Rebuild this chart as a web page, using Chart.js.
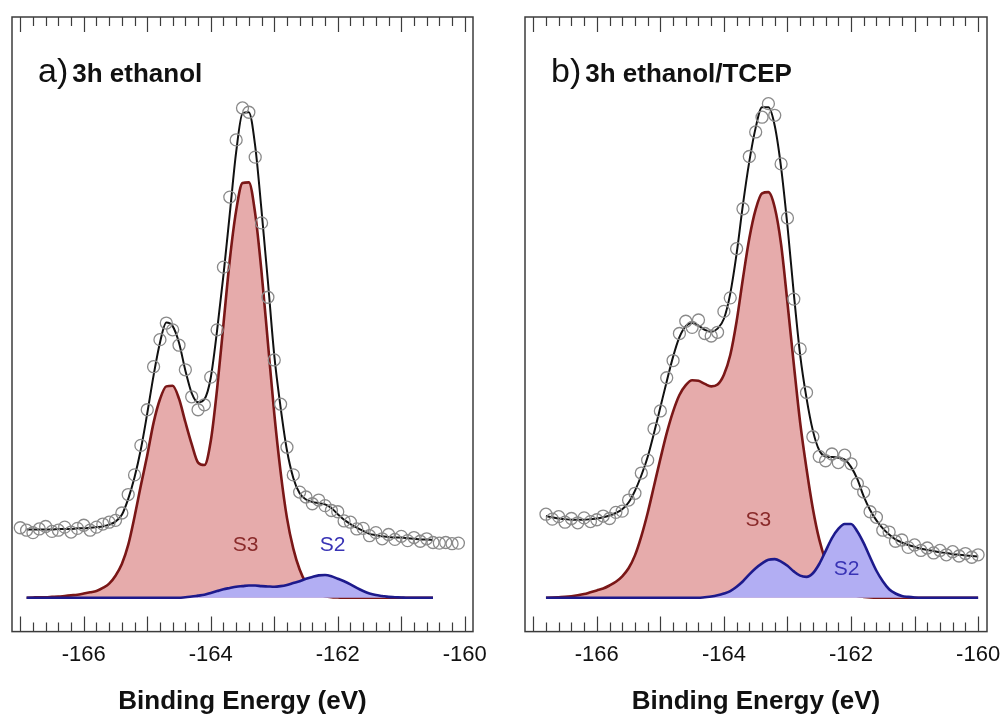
<!DOCTYPE html>
<html>
<head>
<meta charset="utf-8">
<script src="https://cdn.jsdelivr.net/npm/chart.js@4.4.0/dist/chart.umd.min.js"></script>
<style>
  body { margin: 0; background: #fff; overflow: hidden; }
  #wrap { position: relative; width: 1003px; height: 715px; overflow: hidden; }
  canvas { position: absolute; top: 0; }
  #panelA { left: 0; }
  #panelB { left: 500px; }
</style>
</head>
<body>
<div id="wrap">
  <canvas id="panelA" width="500" height="715"></canvas>
  <canvas id="panelB" width="530" height="715"></canvas>
</div>
<script>
// S 2p spectra, binding energy (eV) vs. intensity (arb. units, fitted baseline = 0)
const tickLabels = [-166, -164, -162, -160];

// a) 3h ethanol
const energyA = [
  -167.0, -166.9, -166.8, -166.7, -166.6, -166.5, -166.4, -166.3, -166.2, -166.1,
  -166.0, -165.9, -165.8, -165.7, -165.6, -165.5, -165.4, -165.3, -165.2, -165.1,
  -165.0, -164.9, -164.8, -164.7, -164.6, -164.5, -164.4, -164.3, -164.2, -164.1,
  -164.0, -163.9, -163.8, -163.7, -163.6, -163.5, -163.4, -163.3, -163.2, -163.1,
  -163.0, -162.9, -162.8, -162.7, -162.6, -162.5, -162.4, -162.3, -162.2, -162.1,
  -162.0, -161.9, -161.8, -161.7, -161.6, -161.5, -161.4, -161.3, -161.2, -161.1,
  -161.0, -160.9, -160.8, -160.7, -160.6, -160.5, -160.4, -160.3, -160.2, -160.1
];
const measuredA = [
  11.4, 11.0, 10.6, 11.2, 11.6, 10.8, 11.0, 11.5, 10.7, 11.3,
  11.8, 11.0, 11.5, 12.0, 12.3, 12.6, 13.8, 16.8, 20.0, 24.8,
  30.6, 37.6, 42.0, 44.7, 43.6, 41.1, 37.1, 32.7, 30.6, 31.4,
  35.9, 43.6, 53.8, 65.2, 74.5, 79.7, 79.0, 71.7, 61.0, 48.9,
  38.7, 31.5, 24.5, 20.0, 17.2, 16.4, 15.3, 15.9, 15.0, 14.2,
  14.0, 12.5, 12.3, 11.2, 11.3, 10.1, 10.6, 9.6, 10.3, 9.5,
  10.0, 9.3, 9.8, 9.2, 9.6, 9.0, 8.9, 9.0, 8.8, 8.9
];
const envelopeA = [
  null, 11.1, 11.1, 11.1, 11.1, 11.1, 11.2, 11.2, 11.2, 11.3,
  11.3, 11.4, 11.5, 11.6, 11.9, 12.4, 13.5, 16.1, 19.6, 24.2,
  30.0, 36.2, 41.5, 44.8, 44.2, 41.5, 37.0, 33.3, 31.8, 32.3,
  35.8, 43.5, 52.5, 62.5, 72.5, 78.8, 79.0, 73.5, 63.0, 51.5,
  39.5, 31.0, 24.0, 19.5, 17.0, 16.0, 15.6, 15.4, 15.2, 14.6,
  13.6, 12.7, 12.0, 11.4, 10.9, 10.4, 10.2, 10.0, 9.9, 9.8,
  9.8, 9.7, 9.6, 9.5, 9.5, 9.4, null, null, null, null
];
const s3A = [
  null, 0.0, 0.05, 0.1, 0.1, 0.15, 0.2, 0.3, 0.4, 0.5,
  0.7, 0.9, 1.1, 1.6, 2.3, 3.6, 5.5, 8.6, 13.2, 18.3,
  23.2, 28.5, 32.3, 34.4, 34.5, 32.4, 28.6, 25.0, 22.0, 21.6,
  25.5, 34.0, 44.5, 55.0, 63.0, 67.5, 67.6, 62.5, 53.0, 41.5,
  30.0, 20.5, 13.0, 8.0, 4.6, 2.4, 1.2, 0.6, 0.25, 0.1,
  0.05, 0, 0, 0, 0, 0, 0, 0, 0, 0,
  0, 0, 0, 0, 0, 0, null, null, null, null
];
const s2A = [
  null, 0, 0, 0, 0, 0, 0, 0, 0, 0,
  0, 0, 0, 0, 0, 0, 0, 0, 0, 0,
  0, 0, 0, 0, 0, 0, 0.1, 0.2, 0.35, 0.5,
  0.8, 1.1, 1.4, 1.6, 1.8, 1.9, 2.0, 2.0, 1.9, 1.85,
  1.8, 1.9, 2.1, 2.4, 2.7, 3.1, 3.4, 3.65, 3.7, 3.5,
  3.1, 2.7, 2.2, 1.6, 1.1, 0.7, 0.45, 0.3, 0.15, 0.1,
  0.05, 0, 0, 0, 0, 0, null, null, null, null
];

// b) 3h ethanol/TCEP
const energyB = [
  -166.8, -166.7, -166.6, -166.5, -166.4, -166.3, -166.2, -166.1, -166.0,
  -165.9, -165.8, -165.7, -165.6, -165.5, -165.4, -165.3, -165.2, -165.1, -165.0,
  -164.9, -164.8, -164.7, -164.6, -164.5, -164.4, -164.3, -164.2, -164.1, -164.0,
  -163.9, -163.8, -163.7, -163.6, -163.5, -163.4, -163.3, -163.2, -163.1, -163.0,
  -162.9, -162.8, -162.7, -162.6, -162.5, -162.4, -162.3, -162.2, -162.1, -162.0,
  -161.9, -161.8, -161.7, -161.6, -161.5, -161.4, -161.3, -161.2, -161.1, -161.0,
  -160.9, -160.8, -160.7, -160.6, -160.5, -160.4, -160.3, -160.2, -160.1, -160.0
];
const measuredB = [
  13.6, 12.8, 13.2, 12.3, 12.9, 12.2, 13.0, 12.4, 12.7,
  13.3, 12.9, 13.9, 14.1, 15.9, 17.0, 20.3, 22.4, 27.5, 30.4,
  35.8, 38.6, 43.0, 45.0, 44.0, 45.2, 43.0, 42.6, 43.2, 46.6,
  48.8, 56.8, 63.3, 71.8, 75.8, 78.2, 80.4, 78.5, 70.6, 61.8,
  48.6, 40.5, 33.4, 26.2, 23.0, 22.3, 23.4, 22.0, 23.2, 21.8,
  18.6, 17.2, 14.0, 13.1, 11.0, 10.7, 9.2, 9.4, 8.2, 8.6,
  7.7, 8.1, 7.3, 7.7, 7.0, 7.5, 6.8, 7.2, 6.6, 7.0
];
const envelopeB = [
  13.3, 13.1, 12.9, 12.8, 12.7, 12.7, 12.7, 12.8, 12.9,
  13.1, 13.4, 13.8, 14.4, 15.5, 17.4, 19.9, 22.9, 26.8, 31.0,
  35.2, 39.2, 42.4, 44.2, 44.7, 44.3, 43.6, 43.3, 43.8, 45.4,
  49.5, 56.0, 64.0, 71.0, 76.5, 79.8, 79.8, 76.8, 70.0, 60.5,
  49.5, 39.5, 32.5, 27.2, 24.0, 23.0, 22.9, 22.8, 22.5, 21.3,
  19.3, 16.5, 14.3, 12.6, 11.3, 10.3, 9.5, 9.0, 8.6, 8.3,
  8.0, 7.8, 7.6, 7.4, 7.3, 7.1, 7.0, 6.9, 6.8, 6.7
];
const s3B = [
  0.0, 0.05, 0.1, 0.15, 0.25, 0.4, 0.6, 0.9, 1.2,
  1.5, 2.0, 2.6, 3.5, 4.8, 6.9, 10.0, 13.8, 18.2, 22.6,
  26.8, 30.3, 33.0, 34.6, 35.4, 35.3, 34.8, 34.4, 34.7, 36.3,
  39.5, 45.0, 52.0, 58.5, 63.2, 65.8, 66.0, 63.5, 57.5, 48.0,
  38.0, 28.5, 21.0, 14.5, 9.5, 6.0, 3.5, 2.0, 1.1, 0.6,
  0.3, 0.15, 0.05, 0, 0, 0, 0, 0, 0, 0,
  0, 0, 0, 0, 0, 0, 0, 0, 0, 0
];
const s2B = [
  0, 0, 0, 0, 0, 0, 0, 0, 0,
  0, 0, 0, 0, 0, 0, 0, 0, 0, 0,
  0, 0, 0, 0, 0, 0, 0.1, 0.2, 0.4, 0.7,
  1.1, 1.8, 2.7, 3.8, 4.8, 5.6, 6.2, 6.3, 5.9, 5.2,
  4.3, 3.6, 3.4, 4.0, 5.5, 7.6, 9.7, 11.2, 12.0, 12.0,
  10.8, 8.9, 6.6, 4.4, 2.7, 1.4, 0.7, 0.3, 0.15, 0.05,
  0, 0, 0, 0, 0, 0, 0, 0, 0, 0
];

const FONT = "'Liberation Sans', Arial, Helvetica, sans-serif";

function toPoints(xs, ys) {
  return xs.map(function (x, i) { return { x: x, y: ys[i] }; });
}

// frame with inward ticks top and bottom, panel caption and component names
const framePlugin = {
  id: 'frame',
  afterDatasetsDraw: function (chart, args, opts) {
    const ctx = chart.ctx;
    const area = chart.chartArea;
    const xs = chart.scales.x;
    const ys = chart.scales.y;
    ctx.save();
    ctx.strokeStyle = '#3c3c3c';
    ctx.lineWidth = 1.5;
    ctx.strokeRect(area.left, area.top, area.right - area.left, area.bottom - area.top);

    ctx.lineWidth = 1.2;
    for (let i = 0; i <= 35; i++) {
      const e = -167 + i * 0.2;
      const px = Math.round(xs.getPixelForValue(e)) + 0.5;
      const len = (i % 5 === 0) ? 15 : 9;
      ctx.beginPath();
      ctx.moveTo(px, area.bottom);
      ctx.lineTo(px, area.bottom - len);
      ctx.moveTo(px, area.top);
      ctx.lineTo(px, area.top + len);
      ctx.stroke();
    }

    ctx.fillStyle = '#111';
    ctx.textBaseline = 'alphabetic';
    ctx.textAlign = 'left';
    ctx.font = '34px ' + FONT;
    ctx.fillText(opts.tag, area.left + 26, area.top + 65);
    const tagW = ctx.measureText(opts.tag).width;
    ctx.font = 'bold 26px ' + FONT;
    ctx.fillText(opts.caption, area.left + 30 + tagW, area.top + 65);

    ctx.textAlign = 'center';
    ctx.textBaseline = 'middle';
    ctx.font = '21px ' + FONT;
    opts.peaks.forEach(function (p) {
      ctx.fillStyle = p.color;
      ctx.fillText(p.text, xs.getPixelForValue(p.x), ys.getPixelForValue(p.y));
    });
    ctx.restore();
  }
};

function makePanel(id, energy, measured, envelope, s3, s2, pad, xMax, frameOpts) {
  const ctx = document.getElementById(id).getContext('2d');
  return new Chart(ctx, {
    type: 'line',
    data: {
      datasets: [
        {
          label: 'measured',
          data: toPoints(energy, measured),
          showLine: false,
          pointStyle: 'circle',
          pointRadius: 6,
          pointBorderWidth: 1.3,
          pointBorderColor: '#8a8a8a',
          pointBackgroundColor: 'rgba(0,0,0,0)',
          order: 1
        },
        {
          label: 'envelope',
          data: toPoints(energy, envelope),
          borderColor: '#111',
          borderWidth: 2,
          pointRadius: 0,
          cubicInterpolationMode: 'monotone',
          fill: false,
          order: 2
        },
        {
          label: 'S2',
          data: toPoints(energy, s2),
          borderColor: '#1d1a8c',
          backgroundColor: '#b2aef3',
          borderWidth: 2.6,
          pointRadius: 0,
          cubicInterpolationMode: 'monotone',
          fill: 'origin',
          order: 3
        },
        {
          label: 'S3',
          data: toPoints(energy, s3),
          borderColor: '#7a1717',
          backgroundColor: '#e6abab',
          borderWidth: 2.6,
          pointRadius: 0,
          cubicInterpolationMode: 'monotone',
          fill: 'origin',
          order: 4
        }
      ]
    },
    options: {
      responsive: false,
      animation: false,
      layout: { padding: pad },
      plugins: {
        legend: { display: false },
        tooltip: { enabled: false },
        frame: frameOpts
      },
      scales: {
        x: {
          type: 'linear',
          min: -167.13,
          max: xMax,
          afterBuildTicks: function (scale) {
            scale.ticks = tickLabels.map(function (v) { return { value: v }; });
          },
          grid: { display: false, drawTicks: false },
          border: { display: false },
          ticks: {
            padding: 10,
            color: '#111',
            font: { family: FONT, size: 22 },
            maxRotation: 0
          },
          title: {
            display: true,
            text: 'Binding Energy (eV)',
            color: '#111',
            font: { family: FONT, size: 26, weight: 'bold', lineHeight: 1.0 },
            padding: { top: 11, bottom: 0 }
          }
        },
        y: {
          display: false,
          min: -5.5,
          max: 94.5
        }
      }
    },
    plugins: [framePlugin]
  });
}

makePanel('panelA', energyA, measuredA, envelopeA, s3A, s2A,
  { left: 12, right: 27, top: 17, bottom: 0 }, -159.87,
  {
    tag: 'a)', caption: '3h ethanol',
    peaks: [
      { text: 'S3', x: -163.45, y: 8.6, color: '#8a2a2a' },
      { text: 'S2', x: -162.08, y: 8.6, color: '#3833b5' }
    ]
  });

makePanel('panelB', energyB, measuredB, envelopeB, s3B, s2B,
  { left: 25, right: 43, top: 17, bottom: 0 }, -159.86,
  {
    tag: 'b)', caption: '3h ethanol/TCEP',
    peaks: [
      { text: 'S3', x: -163.46, y: 12.7, color: '#8a2a2a' },
      { text: 'S2', x: -162.07, y: 4.6, color: '#3833b5' }
    ]
  });
</script>
</body>
</html>
